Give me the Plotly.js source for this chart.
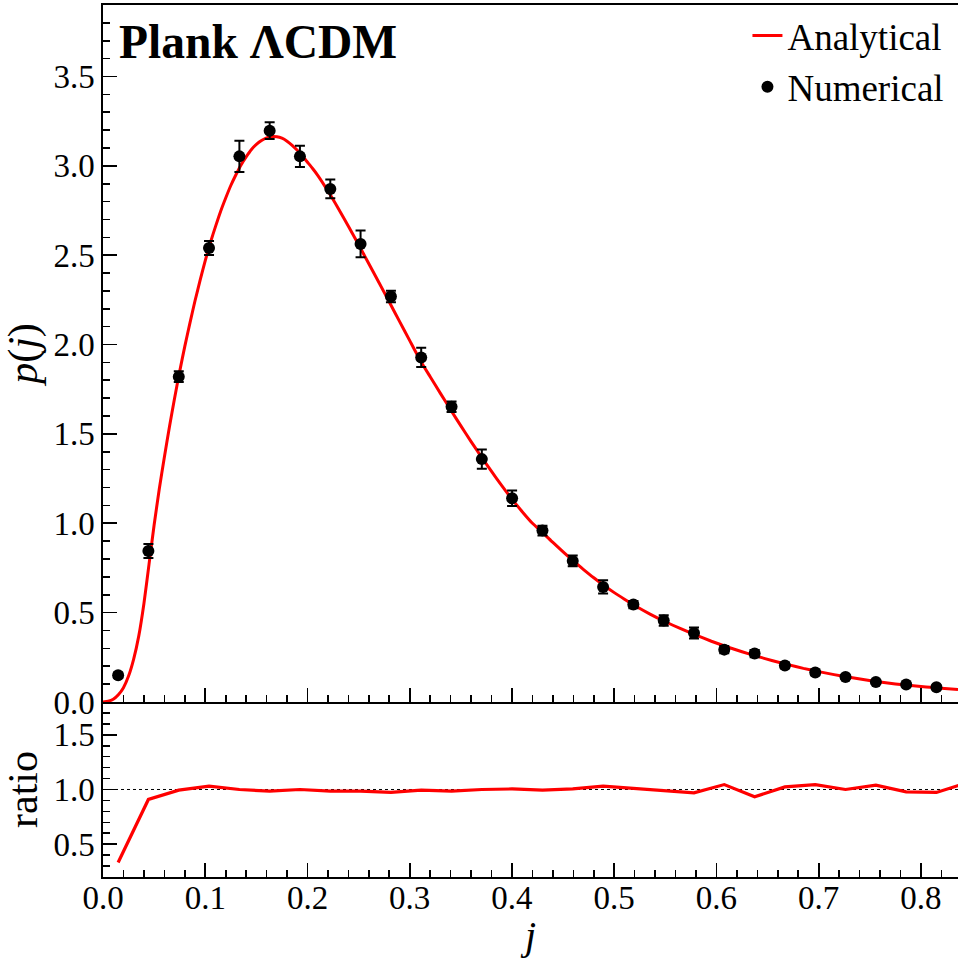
<!DOCTYPE html>
<html>
<head>
<meta charset="utf-8">
<script src="https://cdn.plot.ly/plotly-3.0.1.min.js"></script>
<style>
  html, body { margin: 0; padding: 0; background: #fff; }
  #chart { width: 958px; height: 958px; }
</style>
</head>
<body>
<div id="chart"></div>
<script>
// Analytical curve
const jCurve = [0.000, 0.005, 0.010, 0.015, 0.020, 0.025, 0.030, 0.035, 0.040, 0.045, 0.050, 0.055, 0.060, 0.065, 0.070, 0.075,
  0.080, 0.085, 0.090, 0.095, 0.100, 0.105, 0.110, 0.115, 0.120, 0.125, 0.130, 0.135, 0.140, 0.145,
  0.150, 0.155, 0.160, 0.165, 0.170, 0.175, 0.180, 0.185, 0.190, 0.195, 0.200, 0.205, 0.210,
  0.220, 0.230, 0.240, 0.250, 0.260, 0.270, 0.280, 0.290, 0.300, 0.310, 0.320, 0.330, 0.340, 0.350,
  0.360, 0.370, 0.380, 0.390, 0.400, 0.410, 0.420, 0.430, 0.440, 0.450, 0.460, 0.470, 0.480, 0.490,
  0.500, 0.510, 0.520, 0.535, 0.550, 0.565, 0.580, 0.595, 0.610, 0.625, 0.640, 0.655, 0.670, 0.685,
  0.700, 0.715, 0.730, 0.745, 0.760, 0.775, 0.790, 0.805, 0.820, 0.8362];
const pCurve = [0.000, 0.004, 0.015, 0.040, 0.080, 0.145, 0.240, 0.370, 0.550, 0.770, 0.990, 1.190, 1.370, 1.540, 1.700, 1.850,
  1.990, 2.120, 2.245, 2.360, 2.470, 2.570, 2.660, 2.745, 2.820, 2.890, 2.950, 3.005, 3.050, 3.090,
  3.120, 3.142, 3.157, 3.164, 3.163, 3.155, 3.138, 3.115, 3.087, 3.055, 3.020, 2.985, 2.947,
  2.859, 2.763, 2.662, 2.558, 2.452, 2.346, 2.238, 2.130, 2.022, 1.914, 1.820, 1.727, 1.635, 1.545,
  1.457, 1.372, 1.290, 1.211, 1.135, 1.065, 1.000, 0.948, 0.893, 0.840, 0.789, 0.741, 0.695, 0.652,
  0.612, 0.575, 0.540, 0.492, 0.449, 0.410, 0.374, 0.340, 0.309, 0.281, 0.255, 0.231, 0.209, 0.188,
  0.170, 0.153, 0.138, 0.124, 0.112, 0.101, 0.092, 0.084, 0.077, 0.070];

// Numerical points (bin centres), values and error bars
const jNum = [0.0148, 0.0444, 0.0741, 0.1037, 0.1334, 0.1630, 0.1926, 0.2223, 0.2519, 0.2816, 0.3112, 0.3409, 0.3705, 0.4001,
  0.4298, 0.4594, 0.4891, 0.5187, 0.5484, 0.5780, 0.6076, 0.6373, 0.6669, 0.6966, 0.7262, 0.7559, 0.7855, 0.8151];
const pNum = [0.150, 0.845, 1.820, 2.540, 3.053, 3.197, 3.053, 2.871, 2.563, 2.269, 1.928, 1.652, 1.359, 1.140,
  0.959, 0.789, 0.644, 0.545, 0.456, 0.386, 0.293, 0.271, 0.204, 0.165, 0.140, 0.112, 0.098, 0.082];
const pErr = [0.015, 0.039, 0.030, 0.039, 0.088, 0.047, 0.059, 0.053, 0.075, 0.032, 0.054, 0.029, 0.054, 0.044,
  0.027, 0.030, 0.037, 0.020, 0.029, 0.031, 0.020, 0.020, 0.015, 0.015, 0.012, 0.010, 0.010, 0.010];

// Ratio panel
const jRatio = [0.0148, 0.0444, 0.0741, 0.1037, 0.1334, 0.1630, 0.1926, 0.2223, 0.2519, 0.2816, 0.3112, 0.3409, 0.3705, 0.4001,
  0.4298, 0.4594, 0.4891, 0.5187, 0.5484, 0.5780, 0.6076, 0.6373, 0.6669, 0.6966, 0.7262, 0.7559, 0.7855, 0.8151, 0.8448];
const ratio = [0.333, 0.909, 0.994, 1.030, 1.000, 0.985, 1.000, 0.985, 0.985, 0.973, 0.994, 0.985, 1.000, 1.005,
  0.994, 1.005, 1.030, 1.009, 0.994, 0.970, 1.045, 0.933, 1.024, 1.045, 1.000, 1.039, 0.978, 0.973, 1.060];

const FONT = 'Liberation Serif, Times New Roman, serif';

const traces = [
  {
    x: jCurve, y: pCurve, type: 'scatter', mode: 'lines', name: 'Analytical',
    line: { color: '#ff0000', width: 3, shape: 'spline', smoothing: 0.5 },
    xaxis: 'x', yaxis: 'y'
  },
  {
    x: jNum, y: pNum, type: 'scatter', mode: 'markers', name: 'Numerical',
    marker: { color: '#000000', size: 12 },
    error_y: { type: 'data', array: pErr, visible: true, color: '#000000', thickness: 2, width: 5 },
    xaxis: 'x', yaxis: 'y'
  },
  {
    x: jRatio, y: ratio, type: 'scatter', mode: 'lines', name: 'ratio', showlegend: false,
    line: { color: '#ff0000', width: 3.2 },
    xaxis: 'x2', yaxis: 'y2'
  }
];

const split = 0.2007;
const common = {
  showline: true, linecolor: '#000', linewidth: 1.6,
  ticks: 'inside', ticklen: 14, tickwidth: 1.6, tickcolor: '#000',
  showgrid: false, zeroline: false,
  tickfont: { family: FONT, size: 33, color: '#000' }
};
const minorX = { ticks: 'inside', ticklen: 7, tickwidth: 1.6, tickcolor: '#000', dtick: 0.02, tick0: 0, showgrid: false };
const minorY = { ticks: 'inside', ticklen: 7, tickwidth: 1.6, tickcolor: '#000', dtick: 0.1, tick0: 0, showgrid: false };

const layout = {
  width: 958, height: 958,
  margin: { l: 103, r: 0, t: 5, b: 81 },
  paper_bgcolor: '#fff', plot_bgcolor: '#fff',
  font: { family: FONT, color: '#000' },
  showlegend: true,
  legend: {
    x: 0.99, y: 1.0, xanchor: 'right', yanchor: 'top',
    bgcolor: 'rgba(0,0,0,0)', borderwidth: 0,
    font: { family: FONT, size: 37, color: '#000' },
    tracegroupgap: 0
  },
  xaxis: Object.assign({}, common, {
    domain: [0, 1], range: [0, 0.8362], anchor: 'y', matches: 'x2',
    showticklabels: false, tick0: 0, dtick: 0.1, mirror: true,
    minor: minorX
  }),
  yaxis: Object.assign({}, common, {
    domain: [split, 1], range: [0, 3.9], anchor: 'x',
    tick0: 0, dtick: 0.5, tickformat: '.1f',
    minor: minorY,
    title: { text: '<i>p</i>(<i>j</i>)', font: { family: FONT, size: 42, color: '#000' }, standoff: 8 }
  }),
  xaxis2: Object.assign({}, common, {
    domain: [0, 1], range: [0, 0.8362], anchor: 'y2',
    tick0: 0, dtick: 0.1, tickformat: '.1f', ticklabelstandoff: -9,
    minor: minorX,
    title: { text: '<i>j</i>', font: { family: FONT, size: 40, color: '#000' }, standoff: 11 }
  }),
  yaxis2: Object.assign({}, common, {
    domain: [0, split], range: [0.2, 1.8], anchor: 'x2',
    tick0: 0, dtick: 0.5, tickformat: '.1f',
    minor: minorY,
    title: { text: 'ratio', font: { family: FONT, size: 42, color: '#000' }, standoff: 12 }
  }),
  shapes: [
    { type: 'line', xref: 'x2 domain', yref: 'y2', x0: 0, x1: 1, y0: 1, y1: 1,
      line: { color: '#000', width: 1, dash: 'dot' }, layer: 'below' }
  ],
  annotations: [
    { text: '<b>Plank ΛCDM</b>', xref: 'paper', yref: 'paper', x: 0.016, y: 0.9576,
      xanchor: 'left', yanchor: 'middle', showarrow: false,
      font: { family: FONT, size: 47.5, color: '#000' } }
  ]
};

Plotly.newPlot('chart', traces, layout, { staticPlot: true, displayModeBar: false });
</script>
</body>
</html>
